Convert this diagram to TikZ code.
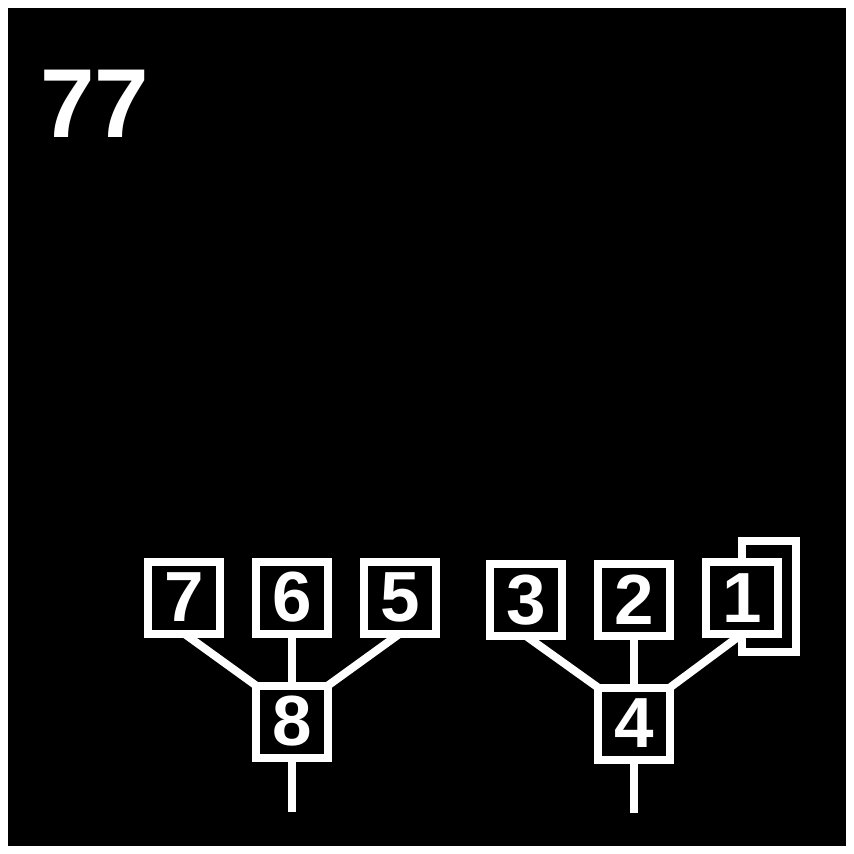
\documentclass[tikz,border=0pt]{standalone}
\usepackage{fontspec}
\setmainfont{Liberation Sans}
\usetikzlibrary{backgrounds}
\begin{document}
\begin{tikzpicture}[x=1pt,y=-1pt,
  numbox/.style={draw=white,line width=8pt,fill=black,minimum size=72pt,inner sep=0pt,outer sep=0pt,
    text=white,font=\fontsize{71}{71}\bfseries\selectfont},
  link/.style={draw=white,line width=8pt}]
\useasboundingbox (0,0) rectangle (854,854);
\node[anchor=base west,inner sep=0pt,text=white,font=\fontsize{98}{98}\bfseries\selectfont] (title) at (40,137) {77};
% left group
\node[numbox] (n7) at (184,597.5) {7};
\node[numbox] (n6) at (292,597.5) {6};
\node[numbox] (n5) at (400,597.5) {5};
\node[numbox] (n8) at (292,721.5) {8};
\coordinate (e8) at (292,812);
% right group
\node[numbox] (n3) at (526,600) {3};
\node[numbox] (n2) at (634,600) {2};
\node[numbox] (n1) at (742,598) {1};
\node[numbox] (n4) at (634,723.5) {4};
\coordinate (e4) at (634,813);
\begin{pgfonlayer}{background}
\fill[white] (0,0) rectangle (854,854);
\fill[black] (8,8) rectangle (846,846);
% back frame of node 1
\draw[link] (742,541) rectangle (796,652);
\draw[link] (n7.south) -- (n8.north west);
\draw[link] (n6.south) -- (n8.north);
\draw[link] (n5.south) -- (n8.north east);
\draw[link] (n8.south) -- (e8);
\draw[link] (n3.south) -- (n4.north west);
\draw[link] (n2.south) -- (n4.north);
\draw[link] (n1.south) -- (n4.north east);
\draw[link] (n4.south) -- (e4);
\end{pgfonlayer}
\end{tikzpicture}
\end{document}
